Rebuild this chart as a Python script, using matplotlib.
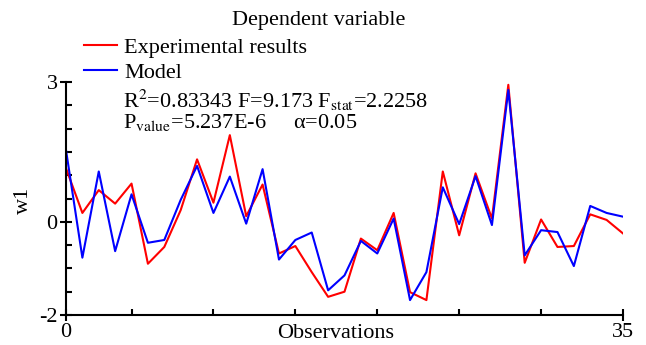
import numpy as np
import matplotlib
matplotlib.use("Agg")
import matplotlib.pyplot as plt

# values (35 observations)
experimental = [1.15, 0.19, 0.68, 0.39, 0.82, -0.90, -0.54, 0.25, 1.34, 0.41,
                1.86, 0.12, 0.80, -0.68, -0.52, -1.08, -1.61, -1.50, -0.36, -0.61,
                0.19, -1.51, -1.68, 1.08, -0.29, 1.04, 0.07, 2.94, -0.88, 0.05,
                -0.54, -0.52, 0.16, 0.04, -0.25]
model = [1.54, -0.77, 1.08, -0.63, 0.59, -0.45, -0.39, 0.47, 1.20, 0.19,
         0.97, -0.04, 1.13, -0.81, -0.39, -0.23, -1.47, -1.15, -0.41, -0.68,
         0.07, -1.68, -1.08, 0.74, -0.05, 0.98, -0.07, 2.83, -0.72, -0.18,
         -0.22, -0.95, 0.34, 0.19, 0.11]
x_max = 35
y_ticks = [-2, 0, 3]

plt.rcParams['font.family'] = ['Liberation Serif', 'DejaVu Serif']
plt.rcParams['mathtext.fontset'] = 'stix'
plt.rcParams['axes.unicode_minus'] = False

obs = np.linspace(0, x_max, len(experimental))

fig = plt.figure(figsize=(6.46, 3.45), dpi=100)
ax = fig.add_axes([66 / 646, 30 / 345, 557 / 646, 233 / 345])

l1, = ax.plot(obs, experimental, color='#ff0000', lw=1.5, label='Experimental results')
l2, = ax.plot(obs, model, color='#0000ff', lw=1.5, label='Model')

ax.set_xlim(0, x_max)
ax.set_ylim(-2, 3)
for s in ['top', 'right']:
    ax.spines[s].set_visible(False)
for s in ['left', 'bottom']:
    ax.spines[s].set_linewidth(1.5)

ax.set_yticks(y_ticks)
ax.set_yticks(np.arange(-2, 3.01, 0.5), minor=True)
ax.set_xticks([0, x_max])
ax.set_xticks(obs[4::5], minor=True)
ax.tick_params(which='major', direction='inout', length=8, width=1.5, labelsize=16, pad=2)
ax.tick_params(which='minor', direction='in', length=4, width=1.5)

ax.set_xlabel('Observations', fontsize=16)
ax.xaxis.set_label_coords(0.484, -0.04)
ax.set_ylabel('w1', fontsize=16)
ax.yaxis.set_label_coords(-0.06, 0.49)

fig.text(0.494, 0.94, 'Dependent variable', fontsize=16, ha='center', va='center')

fig.legend(handles=[l1, l2], loc='upper left', bbox_to_anchor=(84 / 646, 1 - 37 / 345),
           frameon=False, fontsize=16, handlelength=1.5, handletextpad=0.3,
           labelspacing=0.22, borderpad=0, borderaxespad=0)

fig.text(123 / 646, 1 - 100 / 345, r'R$^{2}$=0.83343 F=9.173 F$_{\rm stat}$=2.2258',
         fontsize=16, va='center')
fig.text(123 / 646, 1 - 123 / 345, 'P$_{\\rm value}$=5.237E-6     α=0.05',
         fontsize=16, va='center')

fig.savefig('out.png', dpi=100)
